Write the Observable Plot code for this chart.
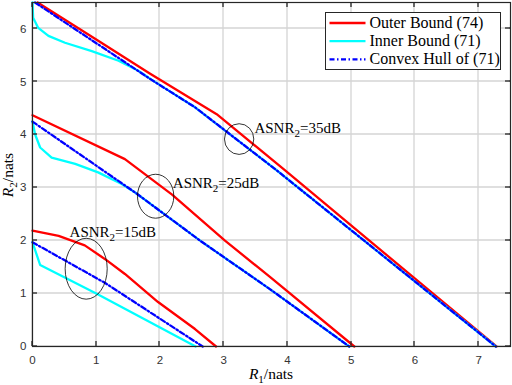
<!DOCTYPE html>
<html><head><meta charset="utf-8">
<script src="https://cdn.jsdelivr.net/npm/d3@7"></script>
<script src="https://cdn.jsdelivr.net/npm/@observablehq/plot@0.6"></script>
<style>
html,body{margin:0;padding:0;background:#fff;}
#chart{width:512px;height:385px;}
</style></head><body><div id="chart"></div>
<script>
// ---- data ----
const seriesNames = ["Outer Bound (74)", "Inner Bound (71)", "Convex Hull of (71)"];
const seriesColors = ["#ff0000", "#00ffff", "#0000ff"];
const xTicks = [0, 1, 2, 3, 4, 5, 6, 7];
const yTicks = [0, 1, 2, 3, 4, 5, 6];

// ASNR2 = 35 dB
const outer35 = [[0.08, 6.5], [1.0, 5.8], [1.84, 5.16], [2.89, 4.39], [3.94, 3.35], [7.28, 0]];
const inner35 = [[0, 6.5], [0.01, 6.21], [0.09, 6.02], [0.25, 5.87], [0.51, 5.74], [0.93, 5.58], [1.35, 5.40], [1.66, 5.21], [1.92, 5.0], [2.55, 4.52], [3.83, 3.33], [7.27, 0]];
const hull35 = [[0.04, 6.5], [1.84, 5.06], [2.55, 4.52], [3.83, 3.33], [7.27, 0]];
// ASNR2 = 25 dB
const outer25 = [[0, 4.37], [1.45, 3.54], [2.19, 2.87], [3.02, 2.0], [3.73, 1.31], [5.05, 0]];
const inner25 = [[0, 4.25], [0.04, 4.01], [0.12, 3.76], [0.30, 3.57], [0.67, 3.45], [1.03, 3.29], [1.40, 3.07], [1.61, 2.91], [2.63, 2.0], [3.73, 1.08], [4.97, 0]];
const hull25 = [[0, 4.25], [1.61, 2.91], [2.63, 2.0], [3.73, 1.08], [4.97, 0]];
// ASNR2 = 15 dB
const outer15 = [[0, 2.19], [0.41, 2.09], [0.82, 1.91], [1.14, 1.65], [1.45, 1.37], [1.97, 0.84], [2.55, 0.33], [2.88, 0]];
const inner15 = [[0, 1.97], [0.12, 1.54], [1.0, 1.0], [2.56, 0]];
const hull15 = [[0, 1.97], [1.14, 1.2], [2.67, 0]];

// annotations
const annotLabels = ["35dB", "25dB", "15dB"];
const ellCx = [3.25, 1.94, 0.85];
const ellCy = [3.91, 2.83, 1.46];
const ellRx = [0.23, 0.285, 0.33];
const ellRy = [0.29, 0.415, 0.575];
const labelX = [3.49, 2.21, 0.59];
const labelY = [4.02, 2.99, 2.06];

// ---- drawing ----
const serif = "'Liberation Serif', 'Times New Roman', serif";
const outers = [outer35, outer25, outer15];
const inners = [inner35, inner25, inner15];
const hulls = [hull35, hull25, hull15];
const dashDot = "5,2.5,1.5,2.5";
const lineOpts = (color, dash) => ({x: d => d[0], y: d => d[1], stroke: color, strokeWidth: 2.3, strokeDasharray: dash, strokeLinejoin: "round"});

const W = 512, H = 385, mL = 32, mR = 2, mT = 2, mB = 39;
const fW = W - mL - mR, fH = H - mT - mB;
const axisColor = "#262626";
const gridColor = "#d4d4d4";

function gridLines(index, scales) {
  const sx = scales.x, sy = scales.y;
  const g = d3.create("svg:g");
  const x0 = sx(0), x1 = sx(7.5), y0 = sy(0), y1 = sy(6.5);
  xTicks.forEach(t => {
    const px = Math.round(sx(t));
    g.append("line").attr("x1", px).attr("x2", px).attr("y1", y0).attr("y2", y1)
      .attr("stroke", gridColor).attr("stroke-width", 1.3);
  });
  yTicks.forEach(t => {
    const py = Math.round(sy(t));
    g.append("line").attr("y1", py).attr("y2", py).attr("x1", x0).attr("x2", x1)
      .attr("stroke", gridColor).attr("stroke-width", 1.3);
  });
  return g.node();
}

function ticksInward(index, scales) {
  const sx = scales.x, sy = scales.y;
  const g = d3.create("svg:g");
  const x0 = sx(0), x1 = sx(7.5), y0 = sy(0), y1 = sy(6.5);
  const add = (a, b, c, d) => g.append("line").attr("x1", a).attr("y1", b).attr("x2", c).attr("y2", d)
    .attr("stroke", axisColor).attr("stroke-width", 1.3);
  xTicks.forEach(t => {
    const px = Math.round(sx(t));
    add(px, y0, px, y0 - 5);
    add(px, y1, px, y1 + 5);
  });
  yTicks.forEach(t => {
    const py = Math.round(sy(t));
    add(x0, py, x0 + 5, py);
    add(x1, py, x1 - 5, py);
  });
  return g.node();
}

function annotations(index, scales) {
  const sx = scales.x, sy = scales.y;
  const g = d3.create("svg:g");
  for (let i = 0; i < annotLabels.length; i++) {
    g.append("ellipse")
      .attr("cx", sx(ellCx[i])).attr("cy", sy(ellCy[i]))
      .attr("rx", sx(ellCx[i] + ellRx[i]) - sx(ellCx[i]))
      .attr("ry", sy(ellCy[i]) - sy(ellCy[i] + ellRy[i]))
      .attr("fill", "none").attr("stroke", "#000").attr("stroke-width", 0.8);
    const t = g.append("text").attr("x", sx(labelX[i])).attr("y", sy(labelY[i]))
      .attr("text-anchor", "start")
      .attr("font-family", serif).attr("font-size", 15).attr("fill", "#000");
    t.append("tspan").text("ASNR");
    t.append("tspan").attr("dy", 4).attr("font-size", 11).text("2");
    t.append("tspan").attr("dy", -4).text("=" + annotLabels[i]);
  }
  return g.node();
}

function axisLabels() {
  const g = d3.create("svg:g").attr("font-family", serif).attr("font-size", 15.5).attr("fill", "#000");
  const tx = g.append("text").attr("x", mL + fW / 2).attr("y", 379).attr("text-anchor", "middle");
  tx.append("tspan").attr("font-style", "italic").text("R");
  tx.append("tspan").attr("dy", 4).attr("font-size", 11).text("1");
  tx.append("tspan").attr("dy", -4).text("/nats");
  const ty = g.append("text").attr("transform", `translate(13,175) rotate(-90)`).attr("text-anchor", "middle");
  ty.append("tspan").attr("font-style", "italic").text("R");
  ty.append("tspan").attr("dy", 4).attr("font-size", 11).text("2");
  ty.append("tspan").attr("dy", -4).text("/nats");
  return g.node();
}

function legend() {
  const g = d3.create("svg:g");
  const x0 = 325.5, y0 = 12.5, w = 175, h = 57;
  g.append("rect").attr("x", x0).attr("y", y0).attr("width", w).attr("height", h)
    .attr("fill", "#fff").attr("stroke", axisColor).attr("stroke-width", 1);
  const dashes = [null, null, dashDot];
  seriesNames.forEach((name, i) => {
    const yy = y0 + 10.5 + i * 18.2;
    g.append("line").attr("x1", x0 + 4).attr("x2", x0 + 40).attr("y1", yy).attr("y2", yy)
      .attr("stroke", seriesColors[i]).attr("stroke-width", 2.3).attr("stroke-dasharray", dashes[i]);
    g.append("text").attr("x", x0 + 44).attr("y", yy + 5).attr("font-family", serif)
      .attr("text-anchor", "start")
      .attr("font-size", 16).attr("fill", "#000").text(name);
  });
  return g.node();
}

const marks = [
  gridLines,
  ...outers.map(d => Plot.line(d, lineOpts(seriesColors[0]))),
  ...inners.map(d => Plot.line(d, lineOpts(seriesColors[1]))),
  ...hulls.map(d => Plot.line(d, lineOpts(seriesColors[2], dashDot))),
  Plot.frame({stroke: axisColor, strokeWidth: 1.2}),
  Plot.axisX(xTicks, {tickSize: 0, tickPadding: 9, label: null, fill: "#333", tickFormat: d3.format("d")}),
  Plot.axisY(yTicks, {tickSize: 0, tickPadding: 6, label: null, fill: "#333", tickFormat: d3.format("d")}),
  annotations,
  axisLabels,
  legend,
  ticksInward
];

const chart = Plot.plot({
  width: W, height: H,
  marginLeft: mL, marginRight: mR, marginTop: mT, marginBottom: mB,
  x: {domain: [0, 7.5]},
  y: {domain: [0, 6.5]},
  style: {fontFamily: "'Liberation Sans', Arial, sans-serif", fontSize: "11.5px", color: axisColor, background: "#fff"},
  marks
});
document.getElementById("chart").appendChild(chart);
</script>
</body></html>
